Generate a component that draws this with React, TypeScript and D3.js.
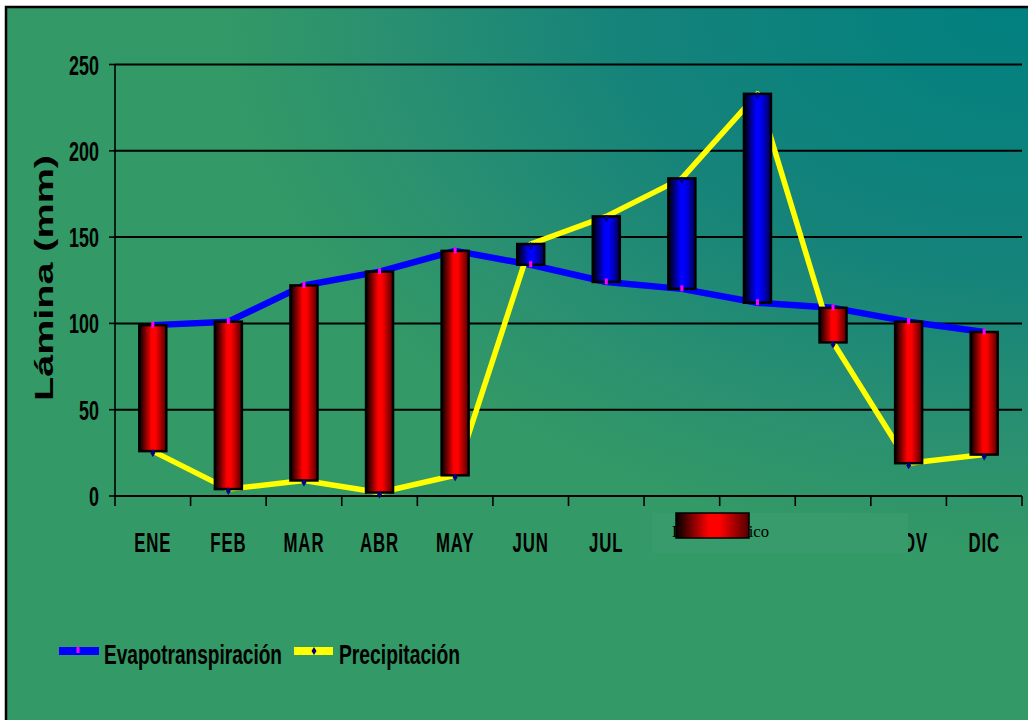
import React from 'react';
import * as d3 from 'd3';

const months = ['ENE', 'FEB', 'MAR', 'ABR', 'MAY', 'JUN', 'JUL', 'AGO', 'SEP', 'OCT', 'NOV', 'DIC'];
const evapotranspiracion = [99, 101, 122, 130, 142, 134, 124, 120, 112, 109, 101, 95];
const precipitacion = [26, 4, 9, 2, 12, 146, 162, 184, 233, 89, 19, 24];
const yTicks = [0, 50, 100, 150, 200, 250];
const seriesNames = ['Evapotranspiración', 'Precipitación'];
const deficitLabel = 'Déficit hídrico';

const W = 1028;
const H = 720;
const FONT = "'Liberation Sans', Arial, Helvetica, sans-serif";

export default function App() {
  const x = d3.scaleBand<string>().domain(months).range([115, 1022]).paddingInner(0).paddingOuter(0);
  const y = d3.scaleLinear().domain([0, 250]).range([496, 64.5]);
  const cx = (m: string) => (x(m) as number) + x.bandwidth() / 2;

  const line = d3
    .line<number>()
    .x((_, i) => cx(months[i]))
    .y((d) => y(d));

  const barW = 27;
  const ticksX = d3.range(months.length + 1).map((i) => 115 + i * x.bandwidth());

  return (
    <svg width={W} height={H} style={{ position: 'absolute', left: 0, top: 0 }}>
      <defs>
        <radialGradient
          id="bg"
          gradientUnits="userSpaceOnUse"
          cx={1028}
          cy={0}
          r={900}
          gradientTransform="translate(1028,0) scale(1,0.68) translate(-1028,0)"
        >
          <stop offset="0" stopColor="#008080" />
          <stop offset="0.45" stopColor="#15837a" />
          <stop offset="0.72" stopColor="#2a9070" />
          <stop offset="0.9" stopColor="#339966" />
          <stop offset="1" stopColor="#339966" />
        </radialGradient>
        <linearGradient id="redBar" x1="0" y1="0" x2="1" y2="0">
          <stop offset="0" stopColor="#000000" />
          <stop offset="0.45" stopColor="#ff0000" />
          <stop offset="0.6" stopColor="#ff0000" />
          <stop offset="1" stopColor="#500000" />
        </linearGradient>
        <linearGradient id="blueBar" x1="0" y1="0" x2="1" y2="0">
          <stop offset="0" stopColor="#000000" />
          <stop offset="0.45" stopColor="#0000ff" />
          <stop offset="0.6" stopColor="#0000ff" />
          <stop offset="1" stopColor="#000050" />
        </linearGradient>
      </defs>

      <rect x={0} y={0} width={W} height={H} fill="#ffffff" />
      <rect x={6} y={7} width={W + 20} height={H + 20} fill="url(#bg)" stroke="#000" strokeWidth={2.5} />

      {/* gridlines */}
      {yTicks.map((t) => (
        <line key={'g' + t} x1={115} x2={1022} y1={y(t)} y2={y(t)} stroke="#000" strokeWidth={2} />
      ))}
      {/* y axis */}
      <line x1={115} x2={115} y1={y(250)} y2={y(0)} stroke="#000" strokeWidth={1.6} />
      {yTicks.map((t) => (
        <line key={'yt' + t} x1={109} x2={115} y1={y(t)} y2={y(t)} stroke="#000" strokeWidth={1.6} />
      ))}
      {yTicks.map((t) => (
        <text
          key={'yl' + t}
          transform={`translate(99,${y(t) + 10}) scale(0.64,1)`}
          textAnchor="end"
          fontFamily={FONT}
          fontWeight="bold"
          fontSize={28}
          fill="#000"
        >
          {t}
        </text>
      ))}
      {/* x ticks */}
      {ticksX.map((tx, i) => (
        <line key={'xt' + i} x1={tx} x2={tx} y1={y(0)} y2={y(0) + 10} stroke="#000" strokeWidth={1.6} />
      ))}

      {/* lines */}
      <path d={line(evapotranspiracion) || ''} fill="none" stroke="#0000ff" strokeWidth={6.5} strokeLinejoin="round" />
      <path d={line(precipitacion) || ''} fill="none" stroke="#ffff00" strokeWidth={5.5} strokeLinejoin="round" />

      {/* up-down bars */}
      {months.map((m, i) => {
        const e = evapotranspiracion[i];
        const p = precipitacion[i];
        const top = y(Math.max(e, p));
        const bot = y(Math.min(e, p));
        return (
          <rect
            key={'b' + m}
            x={cx(m) - barW / 2}
            y={top}
            width={barW}
            height={bot - top}
            fill={e >= p ? 'url(#redBar)' : 'url(#blueBar)'}
            stroke="#000"
            strokeWidth={2.5}
          />
        );
      })}

      {/* markers */}
      {months.map((m, i) => (
        <rect key={'me' + m} x={cx(m) - 1.5} y={y(evapotranspiracion[i]) - 3.5} width={3} height={6} fill="#ff00ff" />
      ))}
      {months.map((m, i) => {
        const px = cx(m);
        const py = y(precipitacion[i]) + 2;
        return (
          <path
            key={'mp' + m}
            d={`M${px},${py - 4} L${px + 2.5},${py} L${px},${py + 4} L${px - 2.5},${py} Z`}
            fill="#000080"
          />
        );
      })}

      {/* x labels */}
      {months.map((m) => (
        <text
          key={'xl' + m}
          transform={`translate(${cx(m)},552) scale(0.6,1)`}
          textAnchor="middle"
          fontFamily={FONT}
          fontWeight="bold"
          fontSize={28}
          letterSpacing={1.5}
          fill="#000"
        >
          {m}
        </text>
      ))}

      {/* y axis title */}
      <text
        transform="translate(53,278) rotate(-90)"
        textAnchor="middle"
        fontFamily={FONT}
        fontWeight="bold"
        fontSize={25}
        textLength={246}
        lengthAdjust="spacingAndGlyphs"
        fill="#000"
      >
        Lámina (mm)
      </text>

      {/* overlapping deficit legend box */}
      <rect x={652} y={513} width={256} height={40} fill="#379b6b" />
      <text
        x={672}
        y={537}
        fontFamily="'Liberation Serif', 'Times New Roman', serif"
        fontSize={16}
        textLength={97}
        lengthAdjust="spacingAndGlyphs"
        fill="#000"
      >
        {deficitLabel}
      </text>
      <rect x={676} y={513} width={73} height={25} fill="url(#redBar)" stroke="#000" strokeWidth={1.5} />

      {/* bottom legend */}
      <line x1={59} x2={99} y1={651} y2={651} stroke="#0000ff" strokeWidth={8} />
      <rect x={76.5} y={647} width={3} height={6} fill="#ff00ff" />
      <text
        x={104}
        y={664}
        fontFamily={FONT}
        fontWeight="bold"
        fontSize={28}
        textLength={178}
        lengthAdjust="spacingAndGlyphs"
        fill="#000"
      >
        {seriesNames[0]}
      </text>
      <line x1={294} x2={333} y1={651} y2={651} stroke="#ffff00" strokeWidth={8} />
      <path d="M314,647 L316.5,651 L314,655 L311.5,651 Z" fill="#000080" />
      <text
        x={339}
        y={664}
        fontFamily={FONT}
        fontWeight="bold"
        fontSize={28}
        textLength={121}
        lengthAdjust="spacingAndGlyphs"
        fill="#000"
      >
        {seriesNames[1]}
      </text>
    </svg>
  );
}
